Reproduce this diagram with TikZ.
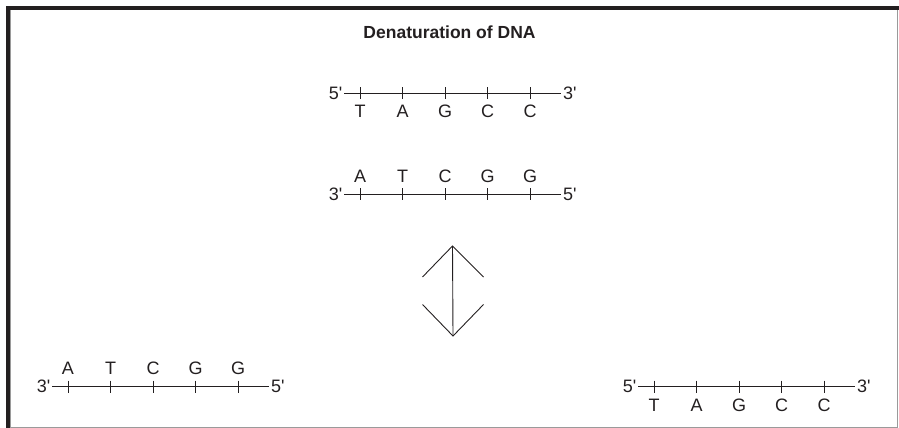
\documentclass[tikz,border=0pt]{standalone}
\usepackage{fontspec}
\setmainfont{Liberation Sans}[Ligatures=TeXOff]
\definecolor{ink}{HTML}{231F20}
\definecolor{rule}{HTML}{9A9A9A}
\tikzset{
  base/.style={font=\fontsize{18}{20}\selectfont, text=ink, inner sep=0pt, anchor=base},
  endlab/.style={font=\fontsize{18}{20}\selectfont, text=ink, inner sep=0pt},
  strandline/.style={draw=ink, line width=1pt},
  tickline/.style={draw=ink, line width=1pt},
  arrowline/.style={draw=ink, line width=0.9pt},
  title/.style={font=\fontsize{17.5}{20}\selectfont\bfseries, text=ink, inner sep=0pt}
}
% #1 name, #2 y of line, #3 x of first tick, #4 left label, #5 right label
\newcommand{\dnastrand}[5]{%
  \node[endlab, anchor=east] (#1L) at (#3-17.5, #2) {#4};
  \node[endlab, anchor=west] (#1R) at (#3+203, #2) {#5};
  \draw[strandline] ([xshift=1.5pt]#1L.east) -- ([xshift=-2pt]#1R.west);
  \foreach \k in {0,...,4} {
    \draw[tickline] (#3+\k*42.5, #2-6) -- (#3+\k*42.5, #2+6);
  }
}
\begin{document}
\begin{tikzpicture}[x=1pt, y=-1pt]
\useasboundingbox (0,0) rectangle (899,428);
% frame
\fill[ink] (6,6) rectangle (899,10);
\fill[ink] (6,6) rectangle (10,428);
\draw[rule, line width=1pt] (10.8,10) -- (10.8,428);
\draw[rule, line width=1pt] (897.5,10) -- (897.5,428);
\draw[rule, line width=1pt] (10,427.3) -- (897.5,427.3);
% title
\node[title] (ttl) at (449.5,32) {Denaturation of DNA};
% top strand (5'->3'), letters below
\dnastrand{s1}{93}{360}{5'}{3'}
\foreach \l [count=\i from 0] in {T,A,G,C,C}
  \node[base] (s1n\i) at (360+\i*42.5, 117) {\l};
% middle complementary strand (3'->5'), letters above
\dnastrand{s2}{194}{360}{3'}{5'}
\foreach \l [count=\i from 0] in {A,T,C,G,G}
  \node[base] (s2n\i) at (360+\i*42.5, 182.5) {\l};
% double-headed arrow
\coordinate (at) at (452.5,246);
\coordinate (ab) at (453,336);
\coordinate (atl) at (422.5,277);
\coordinate (atr) at (483.5,277);
\coordinate (abl) at (422.5,304.5);
\coordinate (abr) at (483.5,304.5);
\draw[arrowline] (atl) -- (at) -- (atr);
\draw[arrowline] (abl) -- (ab) -- (abr);
\draw[arrowline] (at) -- (ab);
% bottom left strand
\dnastrand{s3}{386.5}{68}{3'}{5'}
\foreach \l [count=\i from 0] in {A,T,C,G,G}
  \node[base] (s3n\i) at (68+\i*42.5, 374) {\l};
% bottom right strand
\dnastrand{s4}{386.5}{654}{5'}{3'}
\foreach \l [count=\i from 0] in {T,A,G,C,C}
  \node[base] (s4n\i) at (654+\i*42.5, 411.5) {\l};
\end{tikzpicture}
\end{document}
